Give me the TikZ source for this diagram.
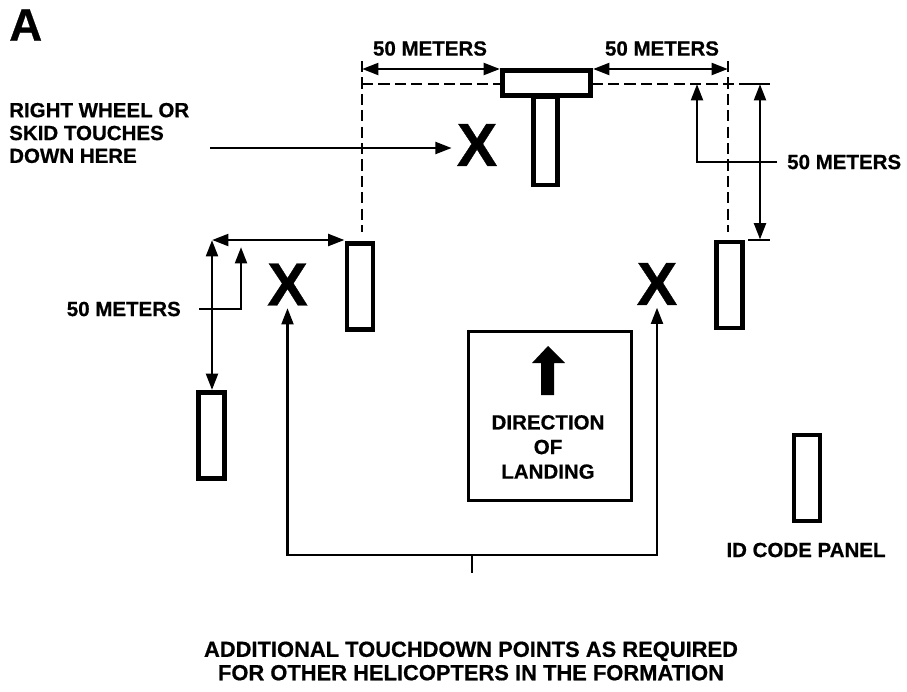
\documentclass[tikz,border=0pt]{standalone}
\usepackage{fontspec}
\setmainfont{Liberation Sans}[BoldFeatures={FakeBold=0.6}]
\usetikzlibrary{arrows.meta,positioning}

\begin{document}
\begin{tikzpicture}[
  x=0.03cm, y=-0.03cm,
  font=\fontsize{17.5}{20}\selectfont\bfseries,
  >={Triangle[length=14pt,width=10pt]},
  panel/.style={
    draw,
    line width=4.2pt,
    fill=white,
    inner sep=0pt,
    minimum width=0.78cm,
    minimum height=2.58cm
  },
  touch/.style={
    inner sep=0pt,
    font=\fontsize{52}{52}\selectfont\bfseries\addfontfeature{FakeBold=2.5}
  },
  txt/.style={align=center, inner sep=0pt},
  wire/.style={line width=2.5pt},
  dim/.style={<->, wire},
  lead/.style={->, wire},
  guide/.style={wire, dash pattern=on 9.5pt off 4.5pt}
]
\useasboundingbox (0,0) rectangle (907,691);

% Figure letter
\node[inner sep=0pt, anchor=west, font=\fontsize{39}{39}\selectfont\bfseries] (fig) at (9,25) {A};

% Guide lines
\draw[guide] (362,61) -- (362,232);
\draw[guide] (728,61) -- (728,232);
\draw[guide] (362,84) -- (770,84);

% T and panels
\node[panel, minimum width=0.72cm, minimum height=2.64cm] (tstem) at (545.5,141) {};
\node[panel, minimum width=2.64cm, minimum height=0.75cm] (tbar) at (546.5,83) {};

\node[panel] (pnl) at (360,286.5) {};
\node[panel] (pnr) at (729.5,285) {};
\node[panel] (pbl) at (211.5,435.5) {};
\node[panel] (pid) at (807,478) {};

% Touchdown points
\node[touch] (xtop) at (477,145) {X};
\node[touch] (xleft) at (287.5,284.5) {X};
\node[touch] (xright) at (657,284) {X};

% Direction box
\node[draw, line width=2.8pt, minimum width=4.89cm, minimum height=5.07cm] (dirbox) at (550,416) {};
\fill (548,346) -- (565,363) -- (554,363) -- (554,395) -- (541,395) -- (541,363) -- (532,363) -- cycle;
\node[txt, font=\fontsize{17.5}{21}\selectfont\bfseries] (dirtxt) at (548,447) {DIRECTION\\OF\\LANDING};

% Labels
\node[txt, anchor=west, align=left, font=\fontsize{17.5}{19.5}\selectfont\bfseries] (wheel) at (9,133) {RIGHT WHEEL OR\\SKID TOUCHES\\DOWN HERE};
\node[txt] (dimtl) at (430,48.5) {50 METERS};
\node[txt] (dimtr) at (662,48.5) {50 METERS};
\node[txt, anchor=west] (dimr) at (787,162) {50 METERS};
\node[txt, anchor=east] (diml) at (181,309) {50 METERS};
\node[txt] (idtxt) at (806,550) {ID CODE PANEL};
\node[txt, font=\fontsize{18.7}{20}\selectfont\bfseries] (addtxt) at (471,661) {ADDITIONAL TOUCHDOWN POINTS AS REQUIRED\\FOR OTHER HELICOPTERS IN THE FORMATION};

% Dimensions
\coordinate (tl) at (362,69);
\coordinate (tr) at (728,69);
\draw[dim] (tl) -- (tl -| tbar.west);
\draw[dim] (tbar.east |- tr) -- (tr);

\coordinate (rd) at (760,84);
\draw[dim] (rd) -- (rd |- pnr.north);
\draw[wire] (748,84) -- (770,84);
\draw[wire] (748,240) -- (770,240);
\draw[lead] ([xshift=-0.3cm]dimr.west) -| (697,84);

\coordinate (cl) at (212,240);
\draw[dim] (cl) -- (cl -| pnl.west);
\draw[dim] (cl) -- (cl |- pbl.north);
\draw[lead] ([xshift=0.54cm]diml.east) -| (241,247);

% Pointers
\coordinate (wheelend) at (210,148);
\draw[lead] (wheelend) -- ([xshift=-4pt]wheelend -| xtop.west);

\coordinate (brk) at (472,573);
\coordinate (brkmid) at (472,555);
\draw[wire] (brkmid) -- (brk);
\draw[lead] (brkmid) -| ([yshift=-2pt]xleft.south);
\draw[lead] (brkmid) -| ([yshift=-2pt]xright.south);

\end{tikzpicture}
\end{document}
